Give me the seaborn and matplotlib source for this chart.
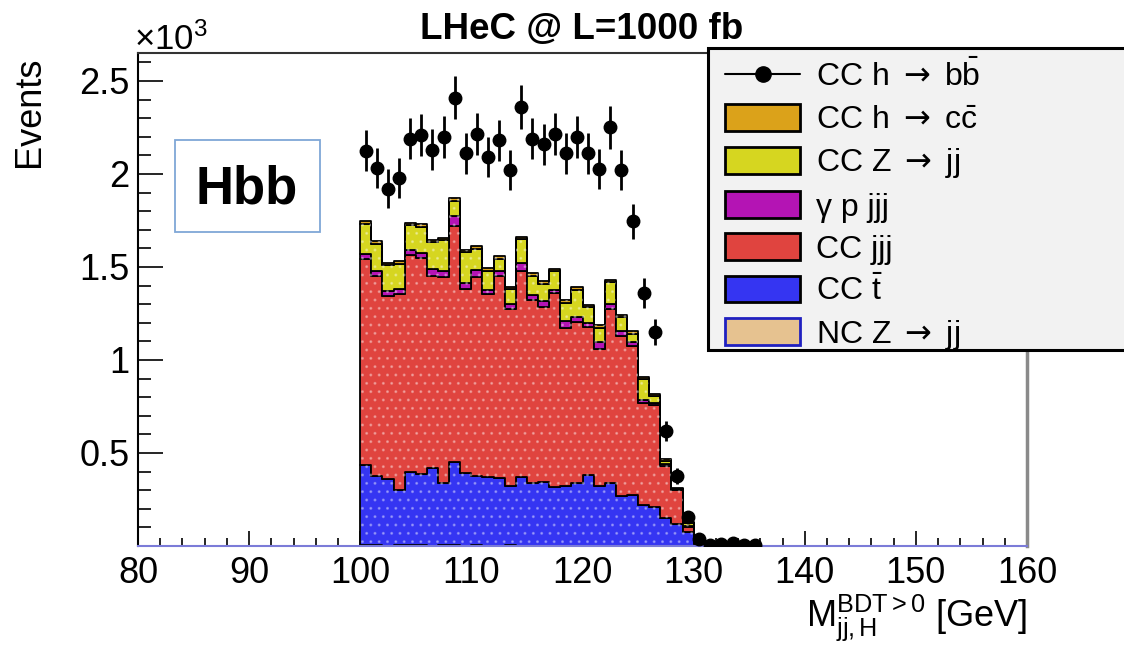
import numpy as np
import pandas as pd
import matplotlib
matplotlib.use("Agg")
import matplotlib.pyplot as plt
import seaborn as sns
from matplotlib.patches import Patch, Rectangle
from matplotlib.lines import Line2D
from matplotlib.collections import PathCollection
from matplotlib.ticker import FixedLocator, MultipleLocator, FuncFormatter

# ---------------- data (events per 1 GeV bin) ----------------
bin_edges = list(range(100, 132))          # 31 bins, 100..131 GeV
cc_hcc = [14, 14, 14, 14, 14, 14, 14, 14, 16, 14, 14, 14, 14, 14, 14, 14,
          14, 14, 14, 14, 14, 14, 14, 14, 14, 12, 12, 10, 3, 4, 1]
cc_zjj = [165, 145, 138, 138, 132, 138, 146, 164, 83, 166, 117, 101, 67, 77,
          126, 103, 94, 102, 100, 146, 86, 78, 117, 76, 46, 109, 35, 18, 3, 19, 2]
gp_jjj = [27, 27, 24, 27, 30, 27, 37, 32, 54, 30, 35, 20, 27, 27, 45, 30,
          30, 12, 35, 30, 20, 35, 27, 27, 20, 20, 15, 8, 5, 3, 1]
cc_jjj = [1108, 1075, 984, 1050, 1164, 1162, 1033, 1109, 1267, 990, 1069, 985,
          1083, 952, 1105, 984, 943, 1045, 850, 865, 796, 737, 935, 860, 802,
          545, 545, 280, 180, 29, 10]
cc_tbar = [430, 375, 360, 300, 395, 385, 415, 335, 450, 390, 375, 370, 365, 320,
           370, 335, 340, 315, 320, 335, 380, 320, 337, 265, 270, 220, 210, 150,
           120, 75, 10]
nc_zjj = [3, 3, 2, 3, 3, 3, 2, 3, 3, 2, 3, 2, 2, 3, 2, 2, 2, 2, 2, 2, 2, 2, 2,
          2, 2, 1, 1, 1, 0, 0, 0]

data_mass = [100.5, 101.5, 102.5, 103.5, 104.5, 105.5, 106.5, 107.5, 108.5,
             109.5, 110.5, 111.5, 112.5, 113.5, 114.5, 115.5, 116.5, 117.5,
             118.5, 119.5, 120.5, 121.5, 122.5, 123.5, 124.5, 125.5, 126.5,
             127.5, 128.5, 129.5, 130.5, 131.5, 132.5, 133.5, 134.5, 135.5]
data_events = [2124, 2030, 1920, 1980, 2190, 2210, 2130, 2200, 2410, 2110, 2215,
               2090, 2180, 2020, 2360, 2190, 2160, 2215, 2110, 2200, 2110, 2025,
               2250, 2020, 1745, 1360, 1150, 620, 376, 158, 35, 8, 10, 18, 8, 8]
data_err = [110, 108, 105, 107, 112, 113, 110, 113, 117, 110, 113, 109, 112, 108,
            116, 112, 111, 113, 110, 112, 110, 108, 114, 108, 95, 81, 72, 54, 45,
            30, 12, 6, 6, 8, 6, 6]

ARROW = r" $\mathsf{\rightarrow}$ "
process_labels = [
    r"CC h" + ARROW + r"c$\bar{\mathrm{c}}$",
    r"CC Z" + ARROW + r"jj",
    "γ p jjj",
    "CC jjj",
    r"CC $\bar{\mathrm{t}}$",
    r"NC Z" + ARROW + r"jj",
]
process_values = [cc_hcc, cc_zjj, gp_jjj, cc_jjj, cc_tbar, nc_zjj]
process_colors = ["#dba21a", "#d6d620", "#b414b4", "#e0443f", "#3535f2", "#e6c290"]
data_label = r"CC h" + ARROW + r"b$\bar{\mathrm{b}}$"

# ---------------- style ----------------
sns.set_style("ticks")
plt.rcParams["font.family"] = ["Liberation Sans", "DejaVu Sans"]
plt.rcParams["mathtext.fontset"] = "custom"
plt.rcParams["mathtext.rm"] = "Liberation Sans"
plt.rcParams["mathtext.it"] = "Liberation Sans:italic"
plt.rcParams["mathtext.bf"] = "Liberation Sans:bold"
plt.rcParams["mathtext.sf"] = "DejaVu Sans"
plt.rcParams["text.color"] = "black"
plt.rcParams["axes.labelcolor"] = "black"
plt.rcParams["xtick.color"] = "black"
plt.rcParams["ytick.color"] = "black"

W, H = 1124, 647
fig = plt.figure(figsize=(W / 100, H / 100), dpi=100)
ax = fig.add_axes([138 / W, 1 - 546 / H, (1027 - 138) / W, (546 - 53) / H])

centers = [e + 0.5 for e in bin_edges[:-1]]
rows = []
for lab, vals in zip(process_labels, process_values):
    for c, v in zip(centers, vals):
        rows.append({"mass": c, "events": v, "process": lab})
df = pd.DataFrame(rows)

sns.histplot(data=df, x="mass", weights="events", hue="process",
             hue_order=process_labels, palette=dict(zip(process_labels, process_colors)),
             bins=bin_edges, multiple="stack", element="step", fill=True,
             alpha=1, edgecolor="black", linewidth=1.3, legend=False, ax=ax)

# subtle ROOT-like dotted fill pattern
for coll in list(ax.collections):
    pc = PathCollection(coll.get_paths(), facecolors="none",
                        edgecolors=[(1, 1, 1, 0.3)], linewidths=0,
                        hatch="..", zorder=coll.get_zorder() + 0.01)
    ax.add_collection(pc)

ax.errorbar(data_mass, data_events, yerr=data_err, fmt="o", color="black",
            markersize=9, elinewidth=2.0, capsize=0, zorder=5)

ax.set_xlim(80, 160)
ax.set_ylim(0, 2650)
ax.set_xlabel("")
ax.set_ylabel("")
ax.xaxis.set_major_locator(MultipleLocator(10))
ax.xaxis.set_minor_locator(MultipleLocator(2))
ax.yaxis.set_major_locator(FixedLocator([500, 1000, 1500, 2000, 2500]))
ax.yaxis.set_minor_locator(MultipleLocator(100))
ax.yaxis.set_major_formatter(FuncFormatter(lambda v, p: f"{v / 1000:g}"))
ax.tick_params(axis="both", which="both", direction="in", labelsize=26,
               width=1.2, colors="black")
ax.tick_params(axis="x", which="major", length=11, pad=7)
ax.tick_params(axis="x", which="minor", length=6)
ax.tick_params(axis="y", which="major", length=18, pad=6)
ax.tick_params(axis="y", which="minor", length=9.5)

ax.spines["left"].set_color("black")
ax.spines["left"].set_linewidth(1.5)
ax.spines["top"].set_color("#333333")
ax.spines["top"].set_linewidth(1.5)
ax.spines["bottom"].set_color("#7b7bd8")
ax.spines["bottom"].set_linewidth(1.5)
ax.spines["right"].set_color("#8a8a8a")
ax.spines["right"].set_linewidth(2.5)

# texts
fig.text(30 / W, 1 - 112 / H, "Events", rotation=90, ha="center", va="center",
         fontsize=26)
fig.text(134 / W, 1 - 40 / H, r"$\times$10$^{3}$", ha="left", va="center",
         fontsize=25)
fig.text(420 / W, 1 - 30 / H, "LHeC @ L=1000 fb", ha="left", va="center",
         fontsize=26.5, fontweight="bold")
fig.text(1027 / W, 1 - 618 / H, r"M$_{\mathrm{jj,H}}^{\mathrm{BDT>0}}$ [GeV]",
         ha="right", va="center", fontsize=26)

# Hbb box
fig.patches.append(Rectangle((175 / W, 1 - 232 / H), 145 / W, 92 / H,
                             transform=fig.transFigure, facecolor="white",
                             edgecolor="#7fa7d7", linewidth=1.3, zorder=3))
fig.text(247 / W, 1 - 190 / H, "Hbb", ha="center", va="center", fontsize=38,
         fontweight="bold", zorder=4)

# legend box
fig.patches.append(Rectangle((708 / W, 1 - 350 / H), (W - 708 + 20) / W, (350 - 48) / H,
                             transform=fig.transFigure, facecolor="#f2f2f2",
                             edgecolor="black", linewidth=2.2, zorder=5))
handles = [Line2D([], [], color="black", marker="o", markersize=11, lw=1.5)]
for c in process_colors[:-1]:
    handles.append(Patch(facecolor=c, edgecolor="black", linewidth=2))
handles.append(Patch(facecolor=process_colors[-1], edgecolor="#2020c0", linewidth=2))
labels = [data_label] + process_labels
leg = fig.legend(handles, labels, loc="upper left",
                 bbox_to_anchor=(703 / W, 1 - 38 / H), frameon=False,
                 fontsize=23, handlelength=2.35, handleheight=0.9,
                 labelspacing=0.34, handletextpad=0.5, borderpad=0.2)
leg.set_zorder(6)

fig.savefig("out.png", dpi=100)
